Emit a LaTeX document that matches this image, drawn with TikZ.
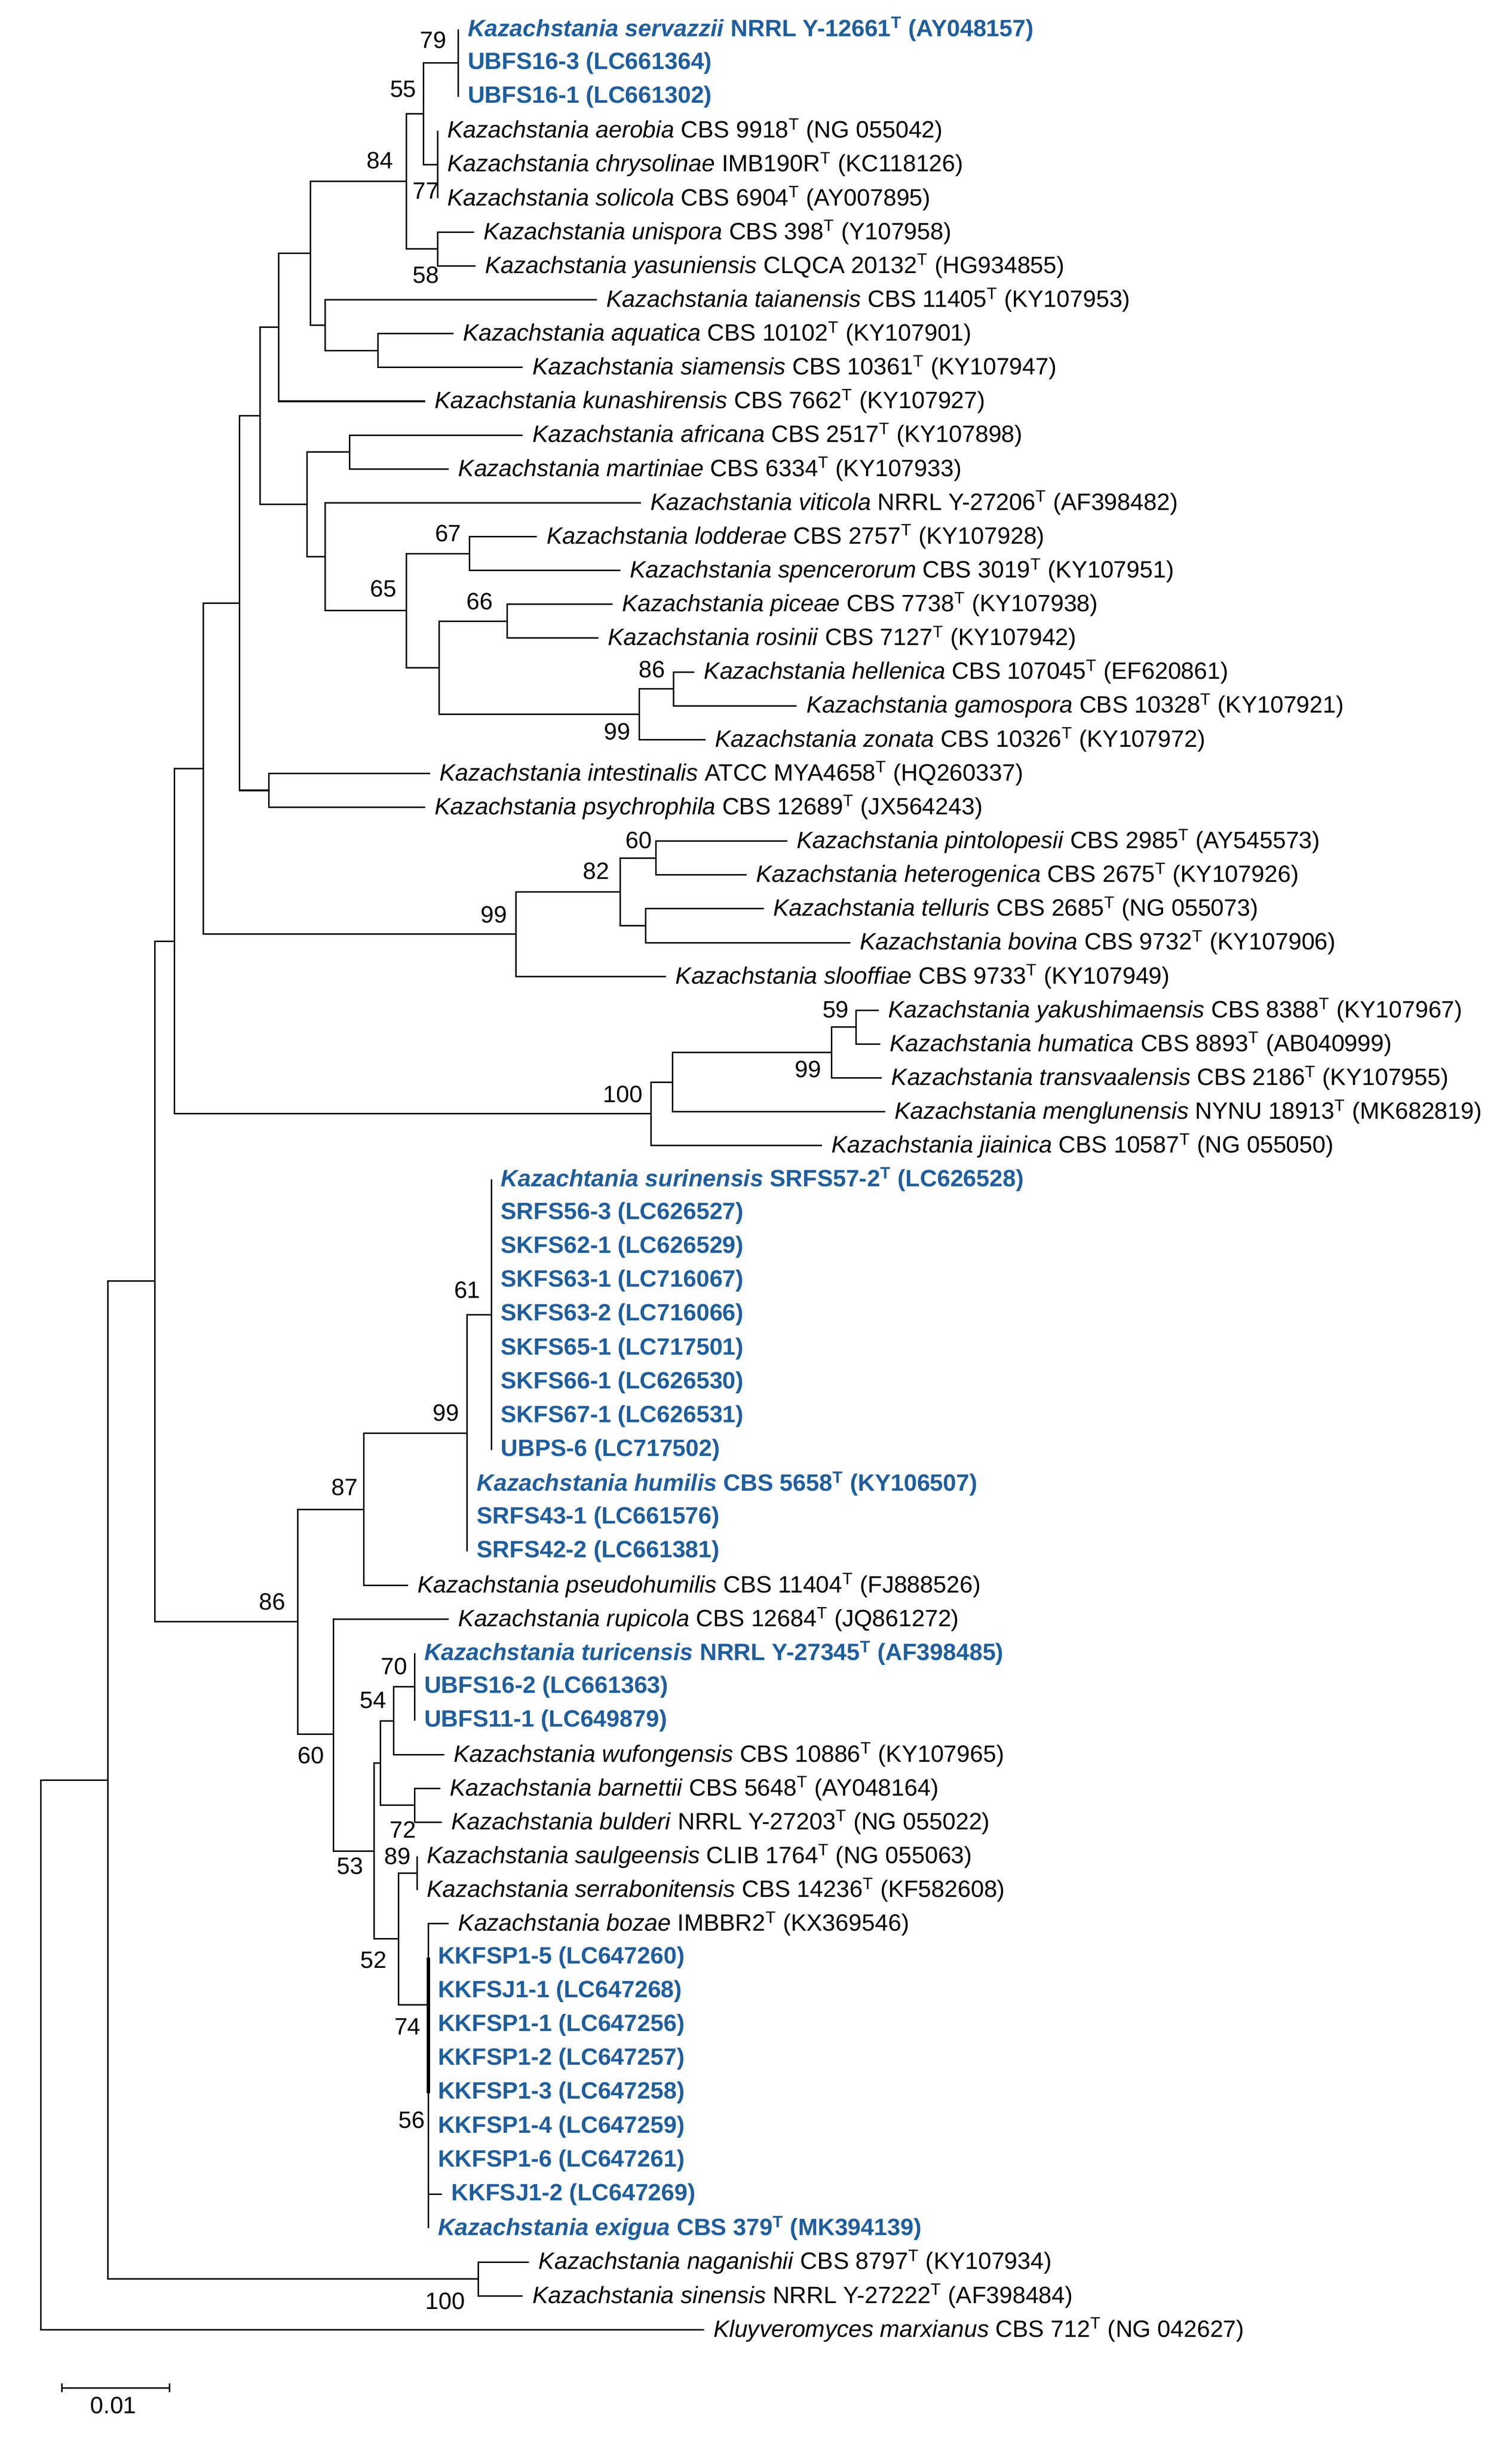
\documentclass[tikz,border=0pt]{standalone}
\usepackage{fontspec}
\setmainfont{Liberation Sans}
\definecolor{tblue}{RGB}{31,94,158}
\newcommand\Ts{\textsuperscript{T}}
\newcommand\Kz{Kazachstania}
\begin{document}
\begin{tikzpicture}[x=0.03cm,y=0.03cm,
  declare function={R(\i)=-(18.5+(\i-1)*21.48);},
  br/.style={line width=0.8pt,black},
  lab/.style={anchor=west,inner sep=0pt,xshift=5pt,font=\fontsize{12.8}{14}\selectfont},
  blab/.style={lab,text=tblue,font=\fontsize{12.8}{14}\selectfont\bfseries},
  bs/.style={inner sep=0pt,font=\fontsize{12.8}{14}\selectfont}]
\useasboundingbox (0,0) rectangle (960,-1553.6);
% ---------- leaves ----------
\newcommand\Lf[5]{\coordinate (L#1) at (#2,{R(#1)}); \node[#4] (T#1) at (L#1) {#5};}
\Lf{1}{291}{1}{blab}{\textit{\Kz\ servazzii} NRRL Y-12661\Ts\ (AY048157)}
\Lf{2}{291}{2}{blab}{UBFS16-3 (LC661364)}
\Lf{3}{291}{3}{blab}{UBFS16-1 (LC661302)}
\Lf{4}{278}{4}{lab}{\textit{\Kz\ aerobia} CBS 9918\Ts\ (NG 055042)}
\Lf{5}{278}{5}{lab}{\textit{\Kz\ chrysolinae} IMB190R\Ts\ (KC118126)}
\Lf{6}{278}{6}{lab}{\textit{\Kz\ solicola} CBS 6904\Ts\ (AY007895)}
\Lf{7}{301}{7}{lab}{\textit{\Kz\ unispora} CBS 398\Ts\ (Y107958)}
\Lf{8}{302}{8}{lab}{\textit{\Kz\ yasuniensis} CLQCA 20132\Ts\ (HG934855)}
\Lf{9}{379}{9}{lab}{\textit{\Kz\ taianensis} CBS 11405\Ts\ (KY107953)}
\Lf{10}{288}{10}{lab}{\textit{\Kz\ aquatica} CBS 10102\Ts\ (KY107901)}
\Lf{11}{332}{11}{lab}{\textit{\Kz\ siamensis} CBS 10361\Ts\ (KY107947)}
\Lf{12}{270}{12}{lab}{\textit{\Kz\ kunashirensis} CBS 7662\Ts\ (KY107927)}
\Lf{13}{332}{13}{lab}{\textit{\Kz\ africana} CBS 2517\Ts\ (KY107898)}
\Lf{14}{285}{14}{lab}{\textit{\Kz\ martiniae} CBS 6334\Ts\ (KY107933)}
\Lf{15}{407}{15}{lab}{\textit{\Kz\ viticola} NRRL Y-27206\Ts\ (AF398482)}
\Lf{16}{341}{16}{lab}{\textit{\Kz\ lodderae} CBS 2757\Ts\ (KY107928)}
\Lf{17}{394}{17}{lab}{\textit{\Kz\ spencerorum} CBS 3019\Ts\ (KY107951)}
\Lf{18}{389}{18}{lab}{\textit{\Kz\ piceae} CBS 7738\Ts\ (KY107938)}
\Lf{19}{380}{19}{lab}{\textit{\Kz\ rosinii} CBS 7127\Ts\ (KY107942)}
\Lf{20}{441}{20}{lab}{\textit{\Kz\ hellenica} CBS 107045\Ts\ (EF620861)}
\Lf{21}{506}{21}{lab}{\textit{\Kz\ gamospora} CBS 10328\Ts\ (KY107921)}
\Lf{22}{448}{22}{lab}{\textit{\Kz\ zonata} CBS 10326\Ts\ (KY107972)}
\Lf{23}{273}{23}{lab}{\textit{\Kz\ intestinalis} ATCC MYA4658\Ts\ (HQ260337)}
\Lf{24}{270}{24}{lab}{\textit{\Kz\ psychrophila} CBS 12689\Ts\ (JX564243)}
\Lf{25}{500}{25}{lab}{\textit{\Kz\ pintolopesii} CBS 2985\Ts\ (AY545573)}
\Lf{26}{474}{26}{lab}{\textit{\Kz\ heterogenica} CBS 2675\Ts\ (KY107926)}
\Lf{27}{485}{27}{lab}{\textit{\Kz\ telluris} CBS 2685\Ts\ (NG 055073)}
\Lf{28}{540}{28}{lab}{\textit{\Kz\ bovina} CBS 9732\Ts\ (KY107906)}
\Lf{29}{423}{29}{lab}{\textit{\Kz\ slooffiae} CBS 9733\Ts\ (KY107949)}
\Lf{30}{558}{30}{lab}{\textit{\Kz\ yakushimaensis} CBS 8388\Ts\ (KY107967)}
\Lf{31}{559}{31}{lab}{\textit{\Kz\ humatica} CBS 8893\Ts\ (AB040999)}
\Lf{32}{560}{32}{lab}{\textit{\Kz\ transvaalensis} CBS 2186\Ts\ (KY107955)}
\Lf{33}{562}{33}{lab}{\textit{\Kz\ menglunensis} NYNU 18913\Ts\ (MK682819)}
\Lf{34}{522}{34}{lab}{\textit{\Kz\ jiainica} CBS 10587\Ts\ (NG 055050)}
\Lf{35}{312}{35}{blab}{\textit{Kazachtania surinensis} SRFS57-2\Ts\ (LC626528)}
\Lf{36}{312}{36}{blab}{SRFS56-3 (LC626527)}
\Lf{37}{312}{37}{blab}{SKFS62-1 (LC626529)}
\Lf{38}{312}{38}{blab}{SKFS63-1 (LC716067)}
\Lf{39}{312}{39}{blab}{SKFS63-2 (LC716066)}
\Lf{40}{312}{40}{blab}{SKFS65-1 (LC717501)}
\Lf{41}{312}{41}{blab}{SKFS66-1 (LC626530)}
\Lf{42}{312}{42}{blab}{SKFS67-1 (LC626531)}
\Lf{43}{312}{43}{blab}{UBPS-6 (LC717502)}
\Lf{44}{296.7}{44}{blab}{\textit{\Kz\ humilis} CBS 5658\Ts\ (KY106507)}
\Lf{45}{296.7}{45}{blab}{SRFS43-1 (LC661576)}
\Lf{46}{296.7}{46}{blab}{SRFS42-2 (LC661381)}
\Lf{47}{259}{47}{lab}{\textit{\Kz\ pseudohumilis} CBS 11404\Ts\ (FJ888526)}
\Lf{48}{285}{48}{lab}{\textit{\Kz\ rupicola} CBS 12684\Ts\ (JQ861272)}
\Lf{49}{263.3}{49}{blab}{\textit{\Kz\ turicensis} NRRL Y-27345\Ts\ (AF398485)}
\Lf{50}{263.3}{50}{blab}{UBFS16-2 (LC661363)}
\Lf{51}{263.3}{51}{blab}{UBFS11-1 (LC649879)}
\Lf{52}{282}{52}{lab}{\textit{\Kz\ wufongensis} CBS 10886\Ts\ (KY107965)}
\Lf{53}{279.5}{53}{lab}{\textit{\Kz\ barnettii} CBS 5648\Ts\ (AY048164)}
\Lf{54}{280.6}{54}{lab}{\textit{\Kz\ bulderi} NRRL Y-27203\Ts\ (NG 055022)}
\Lf{55}{265}{55}{lab}{\textit{\Kz\ saulgeensis} CLIB 1764\Ts\ (NG 055063)}
\Lf{56}{265}{56}{lab}{\textit{\Kz\ serrabonitensis} CBS 14236\Ts\ (KF582608)}
\Lf{57}{285}{57}{lab}{\textit{\Kz\ bozae} IMBBR2\Ts\ (KX369546)}
\Lf{58}{272}{58}{blab}{KKFSP1-5 (LC647260)}
\Lf{59}{272}{59}{blab}{KKFSJ1-1 (LC647268)}
\Lf{60}{272}{60}{blab}{KKFSP1-1 (LC647256)}
\Lf{61}{272}{61}{blab}{KKFSP1-2 (LC647257)}
\Lf{62}{272}{62}{blab}{KKFSP1-3 (LC647258)}
\Lf{63}{272}{63}{blab}{KKFSP1-4 (LC647259)}
\Lf{64}{272}{64}{blab}{KKFSP1-6 (LC647261)}
\Lf{65}{280.6}{65}{blab}{KKFSJ1-2 (LC647269)}
\Lf{66}{272}{66}{blab}{\textit{\Kz\ exigua} CBS 379\Ts\ (MK394139)}
\Lf{67}{336}{67}{lab}{\textit{\Kz\ naganishii} CBS 8797\Ts\ (KY107934)}
\Lf{68}{332}{68}{lab}{\textit{\Kz\ sinensis} NRRL Y-27222\Ts\ (AF398484)}
\Lf{69}{447}{69}{lab}{\textit{Kluyveromyces marxianus} CBS 712\Ts\ (NG 042627)}
% ---------- internal nodes ----------
\newcommand\In[3]{\coordinate (#1) at (#2,{R(#3)});}
\In{A}{291}{2}\In{B}{278}{5}\In{C}{269}{3.5}\In{D}{278}{7.5}\In{E}{258}{5.5}
\In{F}{240}{10.5}\In{G}{206.5}{9.75}\In{H}{197}{7.625}\In{I}{177}{9.8125}
\In{J}{222}{13.5}\In{K}{298}{16.5}\In{Lq}{322}{18.5}\In{M}{427.6}{20.5}
\In{N}{406}{21.25}\In{O}{279}{19.875}\In{P}{258}{18.1875}\In{Q}{206.5}{16.59}
\In{S}{195}{15.05}\In{Tq}{165}{12.43}\In{U}{170.6}{23.5}\In{V}{152}{17.97}
\In{W}{416.4}{25.5}\In{X}{410}{27.5}\In{Y}{393.7}{26.5}\In{Z}{327.7}{27.75}
\In{AA}{129}{22.86}\In{AB}{543.7}{30.5}\In{AC}{528}{31.25}\In{AD}{427.2}{32.125}
\In{AE}{413.5}{33.06}\In{AF}{110.7}{27.96}\In{AG}{312}{39}\In{AH}{296.7}{42.5}
\In{AI}{231}{44.75}\In{AJ}{263.3}{50}\In{AK}{250}{51}\In{AL}{263.3}{53.5}
\In{AM}{241.5}{52.25}\In{AN}{265}{55.5}\In{AO}{272}{59.4}\In{AP}{253}{57.45}
\In{AQ}{237.5}{54.85}\In{AR}{211.7}{51.4}\In{AS}{189}{48.07}\In{AT}{98.3}{38}
\In{AU}{303.7}{67.5}\In{AV}{68.5}{52.75}\In{root}{26}{60.9}
% ---------- branches ----------
\newcommand\Br[2]{\foreach \c in {#2} {\draw[br] (#1) |- (\c);}}
\Br{A}{L1,L2,L3}\Br{B}{L4,L5,L6}\Br{C}{A,B}\Br{D}{L7,L8}\Br{E}{C,D}
\Br{F}{L10,L11}\Br{G}{L9,F}\Br{H}{E,G}\Br{I}{H,L12}\Br{J}{L13,L14}
\Br{K}{L16,L17}\Br{Lq}{L18,L19}\Br{M}{L20,L21}\Br{N}{M,L22}\Br{O}{Lq,N}
\Br{P}{K,O}\Br{Q}{L15,P}\Br{S}{J,Q}\Br{Tq}{I,S}\Br{U}{L23,L24}\Br{V}{Tq,U}
\Br{W}{L25,L26}\Br{X}{L27,L28}\Br{Y}{W,X}\Br{Z}{Y,L29}\Br{AA}{V,Z}
\Br{AB}{L30,L31}\Br{AC}{AB,L32}\Br{AD}{AC,L33}\Br{AE}{AD,L34}\Br{AF}{AA,AE}
\Br{AG}{L35,L43}\Br{AH}{AG,L44,L45,L46}\Br{AI}{AH,L47}
\Br{AJ}{L49,L51}\Br{AK}{AJ,L52}\Br{AL}{L53,L54}\Br{AM}{AK,AL}
\Br{AN}{L55,L56}\Br{AO}{L57,L66,L65}\Br{AP}{AN,AO}\Br{AQ}{AM,AP}
\Br{AR}{L48,AQ}\Br{AS}{AI,AR}\Br{AT}{AF,AS}\Br{AU}{L67,L68}\Br{AV}{AT,AU}
\Br{root}{AV,L69}
\draw[line width=1.8pt] (L58) -- (L62);
% ---------- bootstrap values ----------
\node[bs] (b1) at (275,-25.3) {79};
\node[bs] (b2) at (256,-56.6) {55};
\node[bs] (b3) at (241.3,-102) {84};
\node[bs] (b4) at (270.5,-121) {77};
\node[bs] (b5) at (270.5,-174.5) {58};
\node[bs] (b6) at (284.6,-338.5) {67};
\node[bs] (b7) at (243.5,-373.9) {65};
\node[bs] (b8) at (304.6,-381.8) {66};
\node[bs] (b9) at (414,-425) {86};
\node[bs] (b10) at (392,-464.6) {99};
\node[bs] (b11) at (405.6,-533.4) {60};
\node[bs] (b12) at (378.7,-553) {82};
\node[bs] (b13) at (313.6,-580.7) {99};
\node[bs] (b14) at (530.7,-641) {59};
\node[bs] (b15) at (513,-678.8) {99};
\node[bs] (b16) at (395.5,-694.8) {100};
\node[bs] (b17) at (296.7,-819) {61};
\node[bs] (b18) at (283.3,-897) {99};
\node[bs] (b19) at (218.9,-944.3) {87};
\node[bs] (b20) at (172.8,-1016.8) {86};
\node[bs] (b21) at (250.3,-1057.9) {70};
\node[bs] (b22) at (236.8,-1079.5) {54};
\node[bs] (b23) at (197.5,-1114.6) {60};
\node[bs] (b24) at (255.9,-1161.7) {72};
\node[bs] (b25) at (222.2,-1184.8) {53};
\node[bs] (b26) at (252.5,-1178.5) {89};
\node[bs] (b27) at (237.3,-1244.5) {52};
\node[bs] (b28) at (258.8,-1286.7) {74};
\node[bs] (b29) at (261.5,-1346) {56};
\node[bs] (b30) at (282.8,-1461) {100};
% ---------- scale bar ----------
\coordinate (s1) at (39.3,-1516);
\coordinate (s2) at (107.7,-1516);
\draw[br] (s1) -- (s2);
\draw[br] ([yshift=-2.5]s1) -- ([yshift=2.5]s1);
\draw[br] ([yshift=-2.5]s2) -- ([yshift=2.5]s2);
\node[bs] (sl) at (72,-1527) {0.01};
\end{tikzpicture}
\end{document}
